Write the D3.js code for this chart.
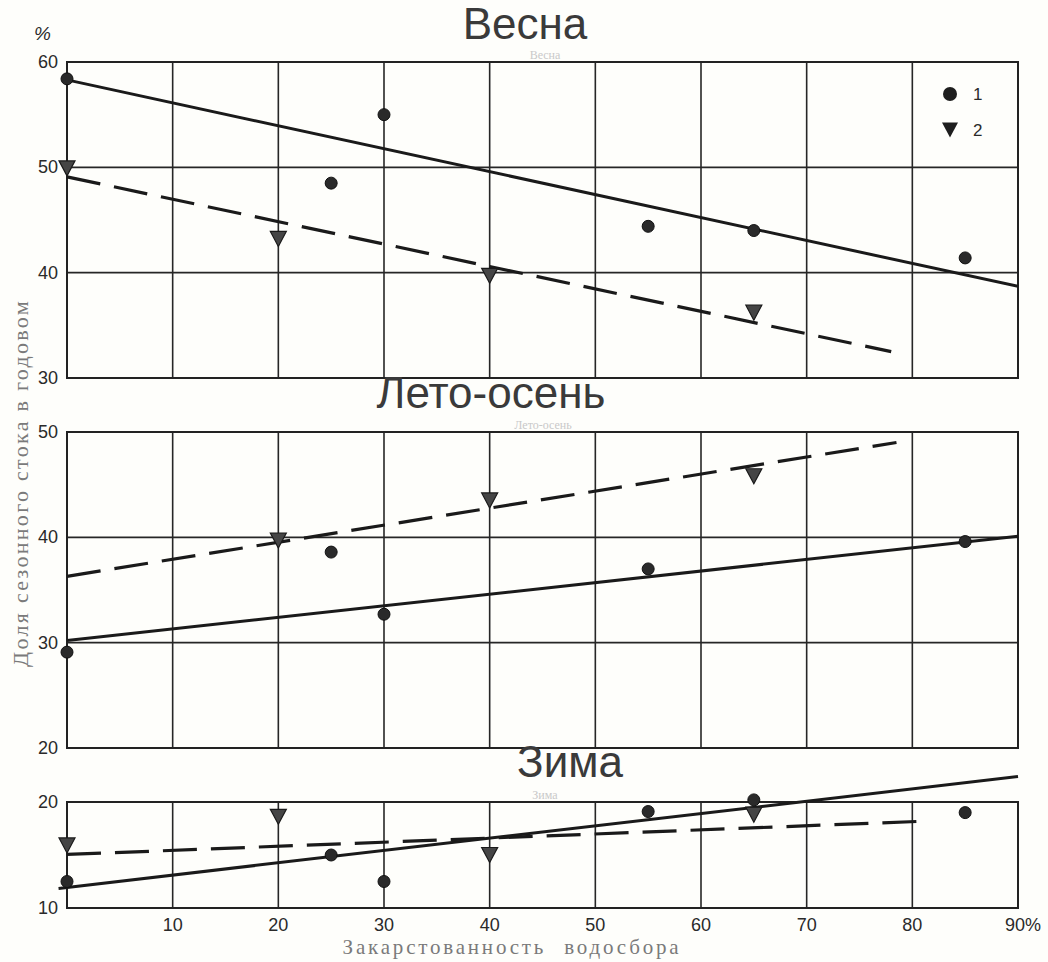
<!DOCTYPE html>
<html>
<head>
<meta charset="utf-8">
<script src="https://cdn.jsdelivr.net/npm/d3@7"></script>
<style>
  body { margin: 0; background: #fefefb; }
  svg { display: block; }
  .tick-lab { font-family: "Liberation Sans", Arial, sans-serif; font-size: 17px; fill: #2a2a2a; }
  .title { font-family: "Liberation Sans", Arial, sans-serif; font-size: 44px; fill: #3a3a3a; }
  .ghost { font-family: "Liberation Serif", serif; font-size: 12px; fill: #c9c9c9; }
  .axisTitle { font-family: "Liberation Serif", "DejaVu Serif", serif; fill: #7a7a7a; }
</style>
</head>
<body>
<div id="chart"></div>
<script>
var svgWidth = 1048;
var svgHeight = 962;

// x axis: watershed karst share, %
var xTicks = [10, 20, 30, 40, 50, 60, 70, 80];
var xGrid = [10, 20, 30, 40, 50, 60, 70, 80];

// panel names and y ranges
var panelNames = ["Весна", "Лето-осень", "Зима"];
var panelDomains = [[30, 60], [20, 50], [10, 20]];
var panelYTicks = [[30, 40, 50, 60], [20, 30, 40, 50], [10, 20]];

// series 1 (circles)
var springX1 = [0, 25, 30, 55, 65, 85];
var springY1 = [58.4, 48.5, 55, 44.4, 44, 41.4];
var summerX1 = [0, 25, 30, 55, 85];
var summerY1 = [29.1, 38.6, 32.7, 37.0, 39.6];
var winterX1 = [0, 25, 30, 55, 65, 85];
var winterY1 = [12.5, 15.0, 12.5, 19.1, 20.2, 19.0];

// series 2 (triangles)
var springX2 = [0, 20, 40, 65];
var springY2 = [49.9, 43.2, 39.7, 36.2];
var summerX2 = [20, 40, 65];
var summerY2 = [39.7, 43.5, 45.8];
var winterX2 = [0, 20, 40, 65];
var winterY2 = [15.9, 18.6, 15.0, 18.8];

// fitted lines: [x0, y0, x1, y1]
var springSolid = [0, 58.3, 90, 38.7];
var springDashed = [0, 49.1, 78, 32.5];
var summerSolid = [0, 30.2, 90, 40.1];
var summerDashed = [0, 36.3, 78.5, 49.0];
var winterSolid = [-0.8, 11.85, 90, 22.4];
var winterDashed = [0, 15.05, 81.4, 18.2];

var panels = [
  {name: panelNames[0], domain: panelDomains[0], ticks: panelYTicks[0], top: 62, bottom: 378,
   x1: springX1, y1: springY1, x2: springX2, y2: springY2, solid: springSolid, dashed: springDashed,
   titleX: 525, titleY: 39, ghostX: 545, ghostY: 59},
  {name: panelNames[1], domain: panelDomains[1], ticks: panelYTicks[1], top: 432, bottom: 748,
   x1: summerX1, y1: summerY1, x2: summerX2, y2: summerY2, solid: summerSolid, dashed: summerDashed,
   titleX: 491, titleY: 408, ghostX: 543, ghostY: 429},
  {name: panelNames[2], domain: panelDomains[2], ticks: panelYTicks[2], top: 802, bottom: 908,
   x1: winterX1, y1: winterY1, x2: winterX2, y2: winterY2, solid: winterSolid, dashed: winterDashed,
   titleX: 570, titleY: 777, ghostX: 545, ghostY: 799}
];

var svg = d3.select("#chart")
  .append("svg")
  .attr("width", svgWidth)
  .attr("height", svgHeight);

svg.append("rect")
  .attr("width", svgWidth)
  .attr("height", svgHeight)
  .attr("fill", "#fefefb");

var xScale = d3.scaleLinear()
  .domain([0, 90])
  .range([67, 1018]);

function triPath(cx, cy, w, h) {
  return "M" + (cx - w / 2) + "," + (cy - h / 2) +
    "L" + (cx + w / 2) + "," + (cy - h / 2) +
    "L" + cx + "," + (cy + h / 2) + "Z";
}

panels.forEach(function(p) {
  var yScale = d3.scaleLinear()
    .domain(p.domain)
    .range([p.bottom, p.top]);

  var g = svg.append("g");

  // faint original caption
  g.append("text")
    .attr("class", "ghost")
    .attr("x", p.ghostX)
    .attr("y", p.ghostY)
    .attr("text-anchor", "middle")
    .text(p.name);

  // vertical grid
  g.selectAll(".vgrid")
    .data(xGrid)
    .enter()
    .append("line")
    .attr("x1", d => xScale(d))
    .attr("x2", d => xScale(d))
    .attr("y1", p.top)
    .attr("y2", p.bottom)
    .attr("stroke", "#262626")
    .attr("stroke-width", 1.6);

  // horizontal grid
  g.selectAll(".hgrid")
    .data(p.ticks.slice(1, -1))
    .enter()
    .append("line")
    .attr("x1", xScale(0))
    .attr("x2", xScale(90))
    .attr("y1", d => yScale(d))
    .attr("y2", d => yScale(d))
    .attr("stroke", "#262626")
    .attr("stroke-width", 1.6);

  // frame
  g.append("rect")
    .attr("x", xScale(0))
    .attr("y", p.top)
    .attr("width", xScale(90) - xScale(0))
    .attr("height", p.bottom - p.top)
    .attr("fill", "none")
    .attr("stroke", "#222")
    .attr("stroke-width", 2);

  // y tick labels
  g.selectAll(".ylab")
    .data(p.ticks)
    .enter()
    .append("text")
    .attr("class", "tick-lab")
    .attr("x", 58)
    .attr("y", d => yScale(d) + 6)
    .attr("text-anchor", "end")
    .style("font-size", "18px")
    .text(d => d);

  // fitted lines
  g.append("line")
    .attr("x1", xScale(p.solid[0]))
    .attr("y1", yScale(p.solid[1]))
    .attr("x2", xScale(p.solid[2]))
    .attr("y2", yScale(p.solid[3]))
    .attr("stroke", "#1a1a1a")
    .attr("stroke-width", 3);

  g.append("line")
    .attr("x1", xScale(p.dashed[0]))
    .attr("y1", yScale(p.dashed[1]))
    .attr("x2", xScale(p.dashed[2]))
    .attr("y2", yScale(p.dashed[3]))
    .attr("stroke", "#1a1a1a")
    .attr("stroke-width", 3.2)
    .attr("stroke-dasharray", "34,14");

  // series 1 circles
  g.selectAll(".c1")
    .data(d3.zip(p.x1, p.y1))
    .enter()
    .append("circle")
    .attr("cx", d => xScale(d[0]))
    .attr("cy", d => yScale(d[1]))
    .attr("r", 6)
    .attr("fill", "#2a2a2a")
    .attr("stroke", "#111")
    .attr("stroke-width", 1);

  // series 2 triangles
  g.selectAll(".t2")
    .data(d3.zip(p.x2, p.y2))
    .enter()
    .append("path")
    .attr("d", d => triPath(xScale(d[0]), yScale(d[1]), 16, 15))
    .attr("fill", "#454545")
    .attr("stroke", "#1a1a1a")
    .attr("stroke-width", 1.2);

  // panel title
  g.append("text")
    .attr("class", "title")
    .attr("x", p.titleX)
    .attr("y", p.titleY)
    .attr("text-anchor", "middle")
    .text(p.name);
});

// legend in top panel
svg.append("circle")
  .attr("cx", 950)
  .attr("cy", 94)
  .attr("r", 7)
  .attr("fill", "#1e1e1e");
svg.append("text")
  .attr("class", "tick-lab")
  .attr("x", 973)
  .attr("y", 100)
  .text("1");
svg.append("path")
  .attr("d", triPath(950, 130, 16, 15))
  .attr("fill", "#1e1e1e");
svg.append("text")
  .attr("class", "tick-lab")
  .attr("x", 973)
  .attr("y", 136)
  .text("2");

// x tick labels
svg.selectAll(".xlab")
  .data(xTicks)
  .enter()
  .append("text")
  .attr("class", "tick-lab")
  .attr("x", d => xScale(d))
  .attr("y", 931)
  .attr("text-anchor", "middle")
  .style("font-size", "18px")
  .text(d => d);

svg.append("text")
  .attr("class", "tick-lab")
  .attr("x", xScale(90) - 13)
  .attr("y", 931)
  .style("font-size", "18px")
  .text("90%");

// unit sign
svg.append("text")
  .attr("class", "tick-lab")
  .attr("x", 34)
  .attr("y", 40)
  .style("font-size", "19px")
  .style("font-style", "italic")
  .text("%");

// axis titles
svg.append("text")
  .attr("class", "axisTitle")
  .attr("transform", "translate(28, 483) rotate(-90)")
  .attr("text-anchor", "middle")
  .style("font-size", "22px")
  .style("letter-spacing", "2.3px")
  .text("Доля сезонного стока в годовом");

svg.append("text")
  .attr("class", "axisTitle")
  .attr("x", 512)
  .attr("y", 954)
  .attr("text-anchor", "middle")
  .style("font-size", "21px")
  .style("letter-spacing", "2.8px")
  .style("word-spacing", "10px")
  .text("Закарстованность водосбора");
</script>
</body>
</html>
